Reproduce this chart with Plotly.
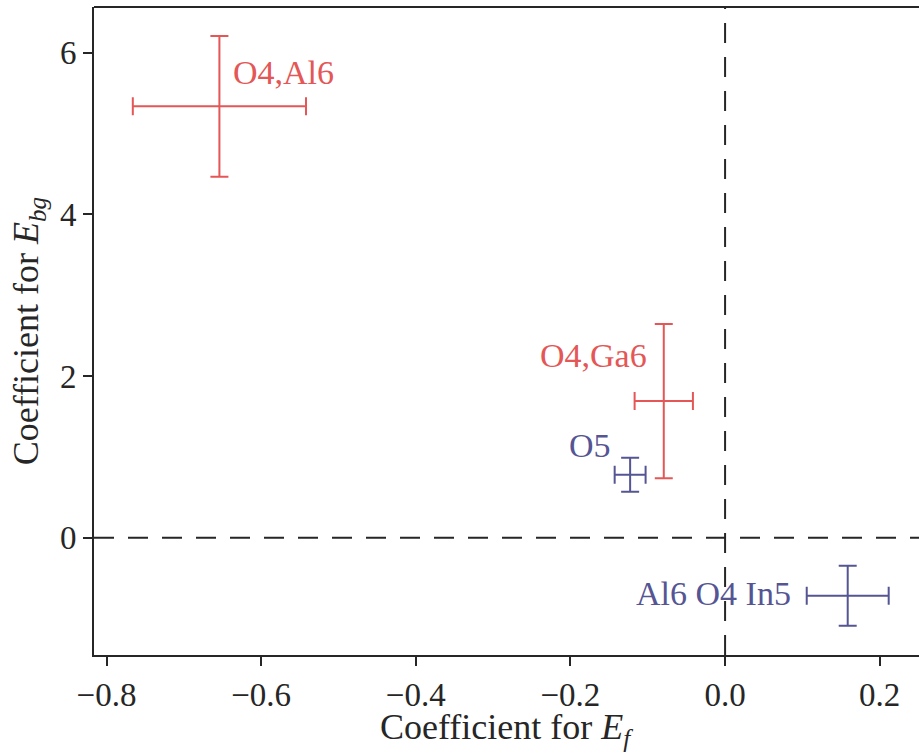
import plotly.graph_objects as go

labels = ["O4,Al6", "O4,Ga6", "O5", "Al6 O4 In5"]
coef_ef = [-0.654, -0.0793, -0.1228, 0.1586]
err_ef = [0.112, 0.0377, 0.020, 0.053]
coef_ebg = [5.336, 1.69, 0.78, -0.717]
err_ebg = [0.87, 0.955, 0.21, 0.371]
colors = ["#e45756", "#e45756", "#555594", "#555594"]

label_x = [-0.6387, -0.099, -0.1444, 0.0875]
label_y = [5.76, 2.253, 1.138, -0.688]
label_anchor = ["left", "right", "right", "right"]

FONT = "Liberation Serif"
DARK = "#262626"

fig = go.Figure()
for i in range(len(labels)):
    fig.add_trace(go.Scatter(
        x=[coef_ef[i]], y=[coef_ebg[i]], mode="markers",
        marker=dict(size=1, opacity=0, color=colors[i]),
        error_x=dict(type="data", array=[err_ef[i]], color=colors[i], thickness=2, width=9),
        error_y=dict(type="data", array=[err_ebg[i]], color=colors[i], thickness=2, width=9),
        showlegend=False, hoverinfo="skip"))
    fig.add_annotation(x=label_x[i], y=label_y[i], text=labels[i], showarrow=False,
                       xanchor=label_anchor[i], yanchor="middle",
                       font=dict(family=FONT, size=34, color=colors[i]))

fig.add_hline(y=0, line=dict(color=DARK, width=2, dash="20px,14px"), layer="below")
fig.add_vline(x=0, line=dict(color=DARK, width=2, dash="20px,14px"), layer="below")
fig.add_shape(type="line", xref="paper", yref="paper", x0=0, x1=1, y0=1, y1=1,
              line=dict(color=DARK, width=2))

# x-axis title placed as paper annotation for exact vertical placement
fig.add_annotation(xref="paper", yref="paper", x=0.5, y=-0.1145,
                   text="Coefficient for <i>E</i><sub><i>f</i></sub>", showarrow=False,
                   xanchor="center", yanchor="middle",
                   font=dict(family=FONT, size=36, color=DARK))

fig.update_layout(
    width=919, height=754,
    margin=dict(l=94, r=0, t=7, b=99),
    plot_bgcolor="white", paper_bgcolor="white",
    font=dict(family=FONT, size=33, color=DARK),
    xaxis=dict(range=[-0.8162, 0.2508], tickvals=[-0.8, -0.6, -0.4, -0.2, 0.0, 0.2],
               ticktext=["\u22120.8", "\u22120.6", "\u22120.4", "\u22120.2", "0.0", "0.2"],
               ticks="outside", ticklen=9, tickwidth=2, tickcolor=DARK,
               showline=True, linewidth=2, linecolor=DARK, showgrid=False, zeroline=False),
    yaxis=dict(range=[-1.451, 6.565], tickvals=[0, 2, 4, 6],
               ticks="outside", ticklen=9, tickwidth=2, tickcolor=DARK,
               showline=True, linewidth=2, linecolor=DARK, showgrid=False, zeroline=False,
               title=dict(text="Coefficient for <i>E</i><sub><i>bg</i></sub>", standoff=10,
                          font=dict(family=FONT, size=36, color=DARK))),
)
fig.write_html("out.html")
